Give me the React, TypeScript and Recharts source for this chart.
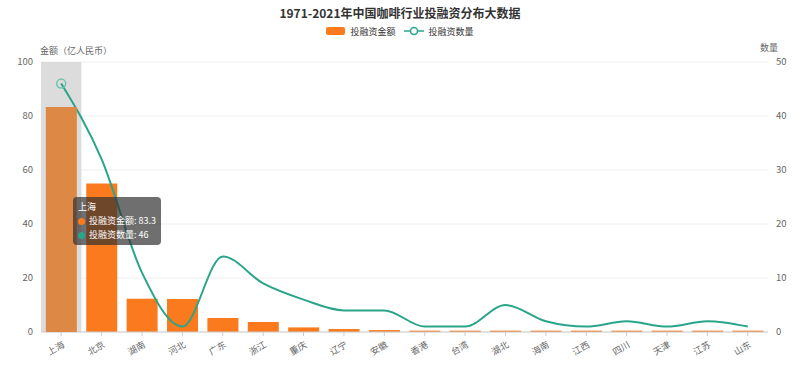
import React from 'react';
import { ComposedChart, Bar, Line, XAxis, YAxis, CartesianGrid, Tooltip, ReferenceArea } from 'recharts';

const categories = ['上海', '北京', '湖南', '河北', '广东', '浙江', '重庆', '辽宁', '安徽', '香港', '台湾', '湖北', '海南', '江西', '四川', '天津', '江苏', '山东'];
const amounts = [83.3, 55, 12.3, 12.2, 5.2, 3.7, 1.7, 1.1, 0.7, 0.5, 0.5, 0.5, 0.5, 0.5, 0.5, 0.5, 0.5, 0.5];
const counts = [46, 32, 11, 1, 14, 9, 6, 4, 4, 1, 1, 5, 2, 1, 2, 1, 2, 1];
const leftTicks = [0, 20, 40, 60, 80, 100];
const rightTicks = [0, 10, 20, 30, 40, 50];

const title = '1971-2021年中国咖啡行业投融资分布大数据';
const amountName = '投融资金额';
const countName = '投融资数量';
const leftLabel = '金额（亿人民币）';
const rightLabel = '数量';
const activeCategory = '上海';

const data = categories.map((c, i) => ({ name: c, amount: amounts[i], count: counts[i] }));

const FONT = '"Noto Sans CJK SC", "Noto Sans", sans-serif';
const BAR = '#fb7a1d';
const LINE = '#2aa58a';

const XTick = (props: any) => {
  const { x, y, payload } = props;
  return (
    <g transform={`translate(${x + 2},${y + 5})`}>
      <text textAnchor="end" transform="rotate(-30)" fontSize={9} fill="#666" fontFamily={FONT} dy={4}>
        {payload.value}
      </text>
    </g>
  );
};

const TipContent = (props: any) => {
  const { active, payload, label } = props;
  if (!active || !payload || !payload.length) return null;
  return (
    <div style={{ background: 'rgba(50,50,50,0.7)', borderRadius: 4, padding: '3px 5px', color: '#fff', fontSize: 9, fontFamily: FONT, lineHeight: '14px', whiteSpace: 'nowrap' }}>
      <div>{label}</div>
      {payload.map((p: any) => (
        <div key={p.dataKey} style={{ display: 'flex', alignItems: 'center' }}>
          <span style={{ display: 'inline-block', width: 7, height: 7, borderRadius: 4, background: p.dataKey === 'amount' ? BAR : LINE, marginRight: 4 }} />
          {p.name}: {p.value}
        </div>
      ))}
    </div>
  );
};

export default function App() {
  return (
    <div style={{ position: 'absolute', left: 0, top: 0, width: 800, height: 369, background: '#fff', fontFamily: FONT }}>
      <div style={{ position: 'absolute', left: 0, top: 4, width: 800, textAlign: 'center', fontSize: 12, lineHeight: '18px', fontWeight: 'bold', color: '#333' }}>{title}</div>
      <div style={{ position: 'absolute', left: 0, top: 24, width: 800, height: 14, display: 'flex', justifyContent: 'center', alignItems: 'center', fontSize: 9, color: '#333' }}>
        <span style={{ display: 'inline-block', width: 19, height: 8, background: BAR, borderRadius: 2, marginRight: 5 }} />
        <span style={{ marginRight: 8 }}>{amountName}</span>
        <svg width={20} height={10} style={{ marginRight: 5 }}>
          <line x1={0} y1={5} x2={20} y2={5} stroke={LINE} strokeWidth={1.5} />
          <circle cx={10} cy={5} r={3.5} fill="#fff" stroke={LINE} strokeWidth={1.5} />
        </svg>
        <span>{countName}</span>
      </div>
      <div style={{ position: 'absolute', left: 40, top: 45, fontSize: 9, lineHeight: '12px', color: '#666' }}>{leftLabel}</div>
      <div style={{ position: 'absolute', left: 760, top: 42, fontSize: 9, lineHeight: '12px', color: '#666' }}>{rightLabel}</div>
      <ComposedChart width={800} height={369} data={data} margin={{ top: 62, right: 0, bottom: 0, left: 0 }} barCategoryGap="12%">
        <CartesianGrid vertical={false} stroke="#eee" yAxisId="left" />
        <ReferenceArea yAxisId="left" x1={activeCategory} x2={activeCategory} y1={0} y2={100} fill="#dcdcdc" fillOpacity={1} stroke="none" />
        <XAxis dataKey="name" interval={0} height={37} tick={<XTick />} tickLine={{ stroke: '#ccc' }} tickSize={4} axisLine={{ stroke: '#ccc' }} />
        <YAxis yAxisId="left" domain={[0, 100]} ticks={leftTicks} width={41} axisLine={false} tickLine={false} tick={{ fontSize: 9.5, fill: '#666', fontFamily: FONT }} />
        <YAxis yAxisId="right" orientation="right" domain={[0, 50]} ticks={rightTicks} width={32} axisLine={false} tickLine={false} tick={{ fontSize: 9.5, fill: '#666', fontFamily: FONT }} />
        <Tooltip defaultIndex={0} active position={{ x: 73, y: 197 }} content={<TipContent />} cursor={false} isAnimationActive={false} />
        <Bar yAxisId="left" dataKey="amount" name={amountName} fill={BAR} activeBar={{ fill: '#dd8844' }} isAnimationActive={false} />
        <Line yAxisId="right" type="monotone" dataKey="count" name={countName} stroke={LINE} strokeWidth={2} dot={false} activeDot={{ r: 4.5, fill: 'none', stroke: '#6cc4b0', strokeWidth: 1.5 }} isAnimationActive={false} />
      </ComposedChart>
    </div>
  );
}
